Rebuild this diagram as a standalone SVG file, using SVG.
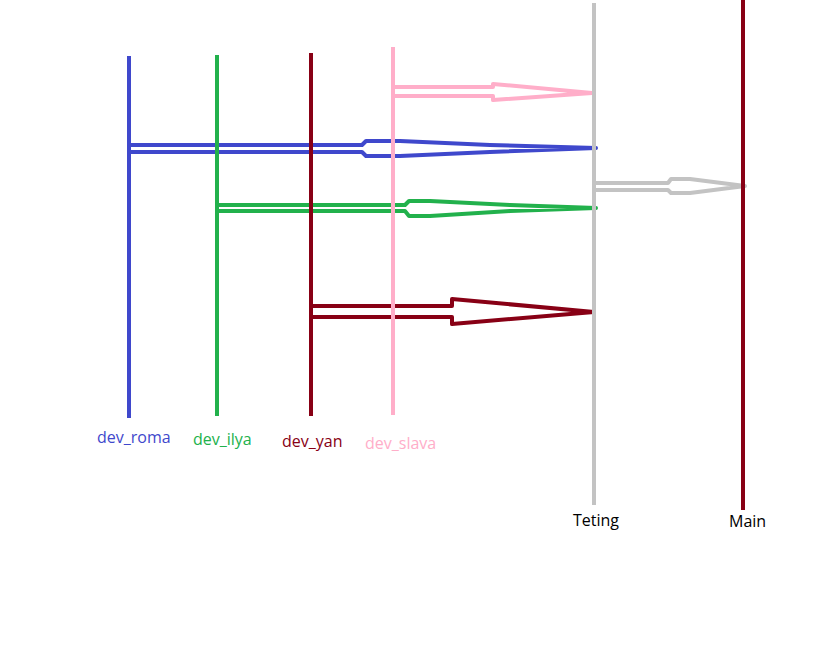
<svg xmlns="http://www.w3.org/2000/svg" width="834" height="648" viewBox="0 0 834 648">
<style>
.br{fill:none;stroke-width:4;stroke-linecap:butt}
.ar{fill:none;stroke-width:4;stroke-linejoin:round;stroke-linecap:round}
text{font-family:"Open Sans","Noto Sans","Liberation Sans",sans-serif;font-size:16px}
</style>
<rect width="834" height="648" fill="#ffffff"/>
<g id="connectors">
<path class="ar" stroke="#ffaec9" d="M395 87 H493 V84 L592 93 L493 100 V96 H395"/>
<path class="ar" stroke="#3f48cc" d="M131 145 H362 L366 141 H400 L490 145 L596 148 L490 152 L400 156 H366 L362 152 H131"/>
<path class="ar" stroke="#22b14c" d="M219 205 H405 L409 201 H430 L510 205 L596 208 L510 211 L430 216 H409 L405 211 H219"/>
<path class="ar" stroke="#880015" d="M313 306 H452 V299 L594 312 L452 324 V317 H313"/>
<path class="ar" stroke="#c3c3c3" d="M596 183 H668 L671 179 H690 L745 186 L690 193 H671 L668 190 H596"/>
</g>
<g id="dev_roma">
<line class="br" stroke="#3f48cc" x1="129" y1="56" x2="129" y2="418"/>
<text x="97" y="443" fill="#3f48cc">dev_roma</text>
</g>
<g id="dev_ilya">
<line class="br" stroke="#22b14c" x1="217" y1="55" x2="217" y2="416"/>
<text x="193" y="445" fill="#22b14c">dev_ilya</text>
</g>
<g id="dev_yan">
<line class="br" stroke="#880015" x1="311" y1="53" x2="311" y2="416"/>
<text x="282" y="447" fill="#880015">dev_yan</text>
</g>
<g id="dev_slava">
<line class="br" stroke="#ffaec9" x1="393" y1="47" x2="393" y2="415"/>
<text x="365" y="449" fill="#ffaec9">dev_slava</text>
</g>
<g id="Teting">
<line class="br" stroke="#c3c3c3" x1="594" y1="3" x2="594" y2="505"/>
<text x="573" y="526" fill="#000000">Teting</text>
</g>
<g id="Main">
<line class="br" stroke="#880015" x1="743" y1="0" x2="743" y2="510"/>
<text x="729" y="527" fill="#000000">Main</text>
</g>
</svg>
